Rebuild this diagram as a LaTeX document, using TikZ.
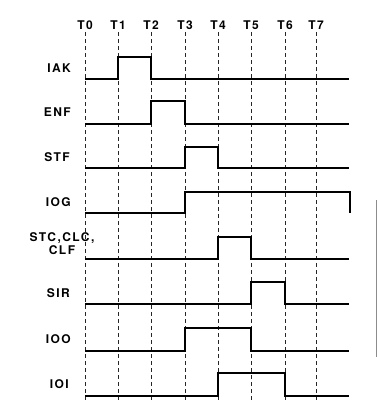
\documentclass[tikz,border=0pt]{standalone}
\usepackage{fontspec}
\newfontfamily\lblfont[LetterSpace=12]{TeX Gyre Heros}
\begin{document}
\begin{tikzpicture}[x=1pt,y=-1pt,
  guide/.style={line width=0.7pt,dash pattern=on 4pt off 3pt,black!85},
  wave/.style={line width=1.4pt,line join=miter},
  sig/.style={anchor=east,font=\lblfont\bfseries\fontsize{12}{12.5}\selectfont,inner sep=0pt,align=center},
  tlab/.style={font=\lblfont\bfseries\fontsize{12}{12.5}\selectfont,inner sep=0pt}]
\useasboundingbox (0,0) rectangle (377,402);
% time markers
\foreach \n/\x in {0/85,1/118,2/151,3/185,4/218,5/251,6/285,7/316}{
  \node[tlab] (t\n) at (\x,25) {T\n};
  \coordinate (g\n) at (\x,400);
  \draw[guide] (\x,32) -- (g\n);
}
% signal labels
\node[sig] (iak) at (71,68) {IAK};
\node[sig] (enf) at (71,112.5) {ENF};
\node[sig] (stf) at (70,157.5) {STF};
\node[sig] (iog) at (71,202.5) {IOG};
\node[sig,anchor=center] (stc) at (62,243.5) {STC,CLC,\\CLF};
\node[sig] (sir) at (70,293) {SIR};
\node[sig] (ioo) at (71,339.5) {IOO};
\node[sig] (ioi) at (69,384.5) {IOI};
% waveforms
\draw[wave] (85,79) -- (118,79) -- (118,57) -- (151,57) -- (151,79) -- (349,79);
\draw[wave] (85,124) -- (151,124) -- (151,101) -- (185,101) -- (185,124) -- (349,124);
\draw[wave] (85,168) -- (185,168) -- (185,147) -- (218,147) -- (218,168) -- (349,168);
\draw[wave] (85,213) -- (185,213) -- (185,192) -- (350,192) -- (350,213);
\draw[wave] (85,259) -- (218,259) -- (218,237) -- (251,237) -- (251,259) -- (349,259);
\draw[wave] (85,304) -- (251,304) -- (251,282) -- (285,282) -- (285,304) -- (349,304);
\draw[wave] (85,351) -- (185,351) -- (185,328) -- (251,328) -- (251,351) -- (349,351);
\draw[wave] (85,396) -- (218,396) -- (218,373) -- (285,373) -- (285,396) -- (349,396);
% scan edge line
\draw[black!45,line width=0.8pt] (376,200) -- (376,357);
\end{tikzpicture}
\end{document}
